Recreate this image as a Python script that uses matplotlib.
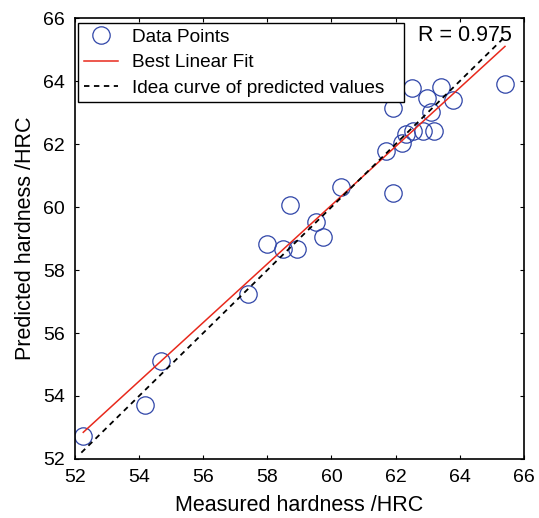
import numpy as np
import matplotlib.pyplot as plt

plt.rcParams['font.family'] = ['Liberation Sans', 'DejaVu Sans']

# measured vs predicted hardness (HRC)
measured = [52.26, 54.20, 54.68, 57.41, 58.00, 58.48, 58.93, 58.70, 59.51, 59.72,
            60.31, 61.92, 61.70, 62.20, 62.33, 62.54, 62.84, 63.21, 63.11, 62.99,
            61.93, 62.51, 63.42, 63.79, 65.41]
predicted = [52.74, 53.72, 55.12, 57.23, 58.83, 58.66, 58.66, 60.06, 59.53, 59.04,
             60.63, 60.46, 61.78, 62.02, 62.32, 62.42, 62.42, 62.41, 63.03, 63.45,
             63.15, 63.79, 63.80, 63.40, 63.90]

# best linear fit coefficients (as drawn)
fit_slope = 0.932
fit_intercept = 4.14
ideal_range = [52.2, 65.4]
r_value = 0.975

ticks = [52, 54, 56, 58, 60, 62, 64, 66]

fig = plt.figure(figsize=(5.39, 5.18), dpi=100)
ax = fig.add_axes([0.139, 0.114, 0.833, 0.851])

ax.plot(measured, predicted, 'o', mfc='none', mec='#2f45a8', ms=12.5, mew=0.9,
        label='Data Points')

xf = np.array([min(measured), max(measured)])
ax.plot(xf, fit_slope * xf + fit_intercept, '-', color='#e8291c', lw=1.1,
        label='Best Linear Fit')

ax.plot(ideal_range, ideal_range, '--', color='black', lw=1.3, dashes=(3, 2.5),
        label='Idea curve of predicted values')

ax.set_xlim(52, 66)
ax.set_ylim(52, 66)
ax.set_xticks(ticks)
ax.set_yticks(ticks)
for s in ax.spines.values():
    s.set_linewidth(1.2)
ax.tick_params(direction='in', top=True, right=True, labelsize=14, length=3,
               width=0.8, pad=7)
ax.set_xlabel('Measured hardness /HRC', fontsize=15.5, labelpad=7)
ax.set_ylabel('Predicted hardness /HRC', fontsize=15.5, labelpad=5)

ax.text(0.973, 0.96, 'R = %.3f' % r_value, transform=ax.transAxes,
        ha='right', va='center', fontsize=15.5)

leg = ax.legend(loc='upper left', bbox_to_anchor=(0.007, 0.5, 0.7255, 0.489),
                mode='expand', fontsize=13.7,
                fancybox=False, framealpha=1, edgecolor='black',
                borderaxespad=0, handlelength=1.8, handletextpad=0.75,
                labelspacing=0.42, borderpad=0.3)
leg.get_frame().set_linewidth(1.0)

fig.savefig('out.png', dpi=100)
